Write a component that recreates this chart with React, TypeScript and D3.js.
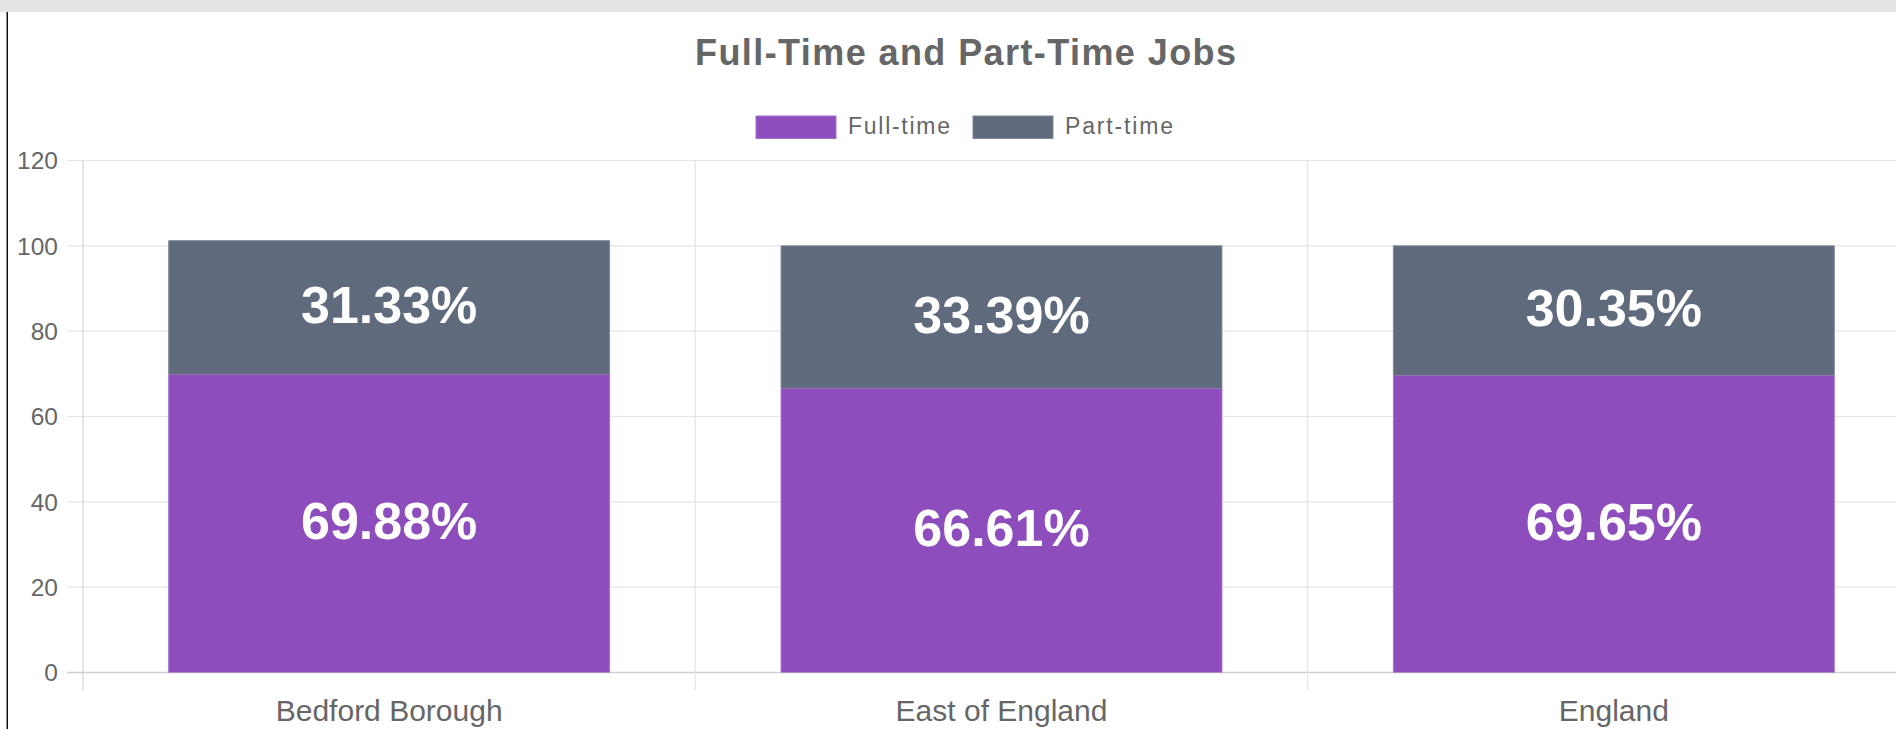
import React from "react";
import { scaleBand, scaleLinear, stack } from "d3";

// chart data
const categories = ["Bedford Borough", "East of England", "England"];
const fullTime = [69.88, 66.61, 69.65];
const partTime = [31.33, 33.39, 30.35];
const seriesNames = ["Full-time", "Part-time"];
const seriesColors = ["#8d4dbd", "#5f6b7d"];
const borderColors = ["#a673d2", "#7f8898"];
const yTicks = [0, 20, 40, 60, 80, 100, 120];

const W = 1896;
const H = 729;
const FONT = "'Liberation Sans', Arial, Helvetica, sans-serif";

function App() {
  const rows = categories.map((c, i) => ({ cat: c, "Full-time": fullTime[i], "Part-time": partTime[i] }));
  const layers = stack().keys(seriesNames)(rows as any);

  const x = scaleBand().domain(categories).range([83, 1920]).paddingInner(0).paddingOuter(0);
  const y = scaleLinear().domain([0, 120]).range([672.5, 160.5]);
  const band = x.bandwidth();
  const barW = band * 0.72;

  const gridX = categories.map((c) => x(c) as number).concat([x.range()[1]]);

  return (
    <div style={{ position: "fixed", left: 0, top: 0, width: W, height: H, overflow: "hidden", background: "#fff" }}>
      <svg width={W} height={H} style={{ display: "block" }}>
        {/* page chrome */}
        <rect x={0} y={0} width={W} height={12} fill="#e4e4e4" />
        <rect x={6.5} y={12} width={1.5} height={H - 12} fill="#111" />

        {/* title */}
        <text
          x={965.5}
          y={64.5}
          textAnchor="middle"
          fontFamily={FONT}
          fontWeight="bold"
          fontSize={36}
          fill="#666"
          textLength={541}
          lengthAdjust="spacing"
        >
          Full-Time and Part-Time Jobs
        </text>

        {/* legend */}
        {seriesNames.map((s, i) => {
          const bx = [756, 973][i];
          const tw = [102, 108][i];
          return (
            <g key={s}>
              <rect x={bx} y={116} width={80} height={22.5} fill={seriesColors[i]} stroke={borderColors[i]} strokeWidth={1} />
              <text
                x={bx + 92}
                y={134}
                fontFamily={FONT}
                fontSize={23}
                fill="#666"
                textLength={tw}
                lengthAdjust="spacing"
              >
                {s}
              </text>
            </g>
          );
        })}

        {/* horizontal grid + y ticks */}
        {yTicks.map((t) => (
          <g key={t}>
            <line
              x1={67}
              x2={1920}
              y1={y(t)}
              y2={y(t)}
              stroke={t === 0 ? "#cfcfcf" : "#e6e6e6"}
              strokeWidth={t === 0 ? 1.5 : 1.2}
            />
            <text
              x={58}
              y={y(t)}
              dy="0.36em"
              textAnchor="end"
              fontFamily={FONT}
              fontSize={24.5}
              fill="#666"
            >
              {t}
            </text>
          </g>
        ))}

        {/* vertical grid */}
        {gridX.map((gx, i) => (
          <line
            key={i}
            x1={gx}
            x2={gx}
            y1={y(120)}
            y2={690}
            stroke={i === 0 ? "#d6d6d6" : "#e6e6e6"}
            strokeWidth={1.2}
          />
        ))}

        {/* stacked bars */}
        {layers.map((layer, li) => (
          <g key={seriesNames[li]}>
            {layer.map((d, i) => {
              const cx = (x(categories[i]) as number) + band / 2;
              const top = y(d[1]);
              const bottom = y(d[0]);
              return (
                <g key={categories[i]}>
                  <rect x={cx - barW / 2} y={top} width={barW} height={bottom - top} fill={seriesColors[li]} />
                  <path
                    d={`M${cx - barW / 2},${bottom} V${top} H${cx + barW / 2} V${bottom}`}
                    fill="none"
                    stroke={borderColors[li]}
                    strokeWidth={1}
                  />
                  <text
                    x={cx}
                    y={(top + bottom) / 2}
                    dy="0.3em"
                    textAnchor="middle"
                    fontFamily={FONT}
                    fontWeight="bold"
                    fontSize={52}
                    fill="#fff"
                  >
                    {(d[1] - d[0]).toFixed(2)}%
                  </text>
                </g>
              );
            })}
          </g>
        ))}

        {/* category labels */}
        {categories.map((c) => (
          <text
            key={c}
            x={(x(c) as number) + band / 2}
            y={721}
            textAnchor="middle"
            fontFamily={FONT}
            fontSize={30}
            fill="#666"
          >
            {c}
          </text>
        ))}
      </svg>
    </div>
  );
}

export default App;
